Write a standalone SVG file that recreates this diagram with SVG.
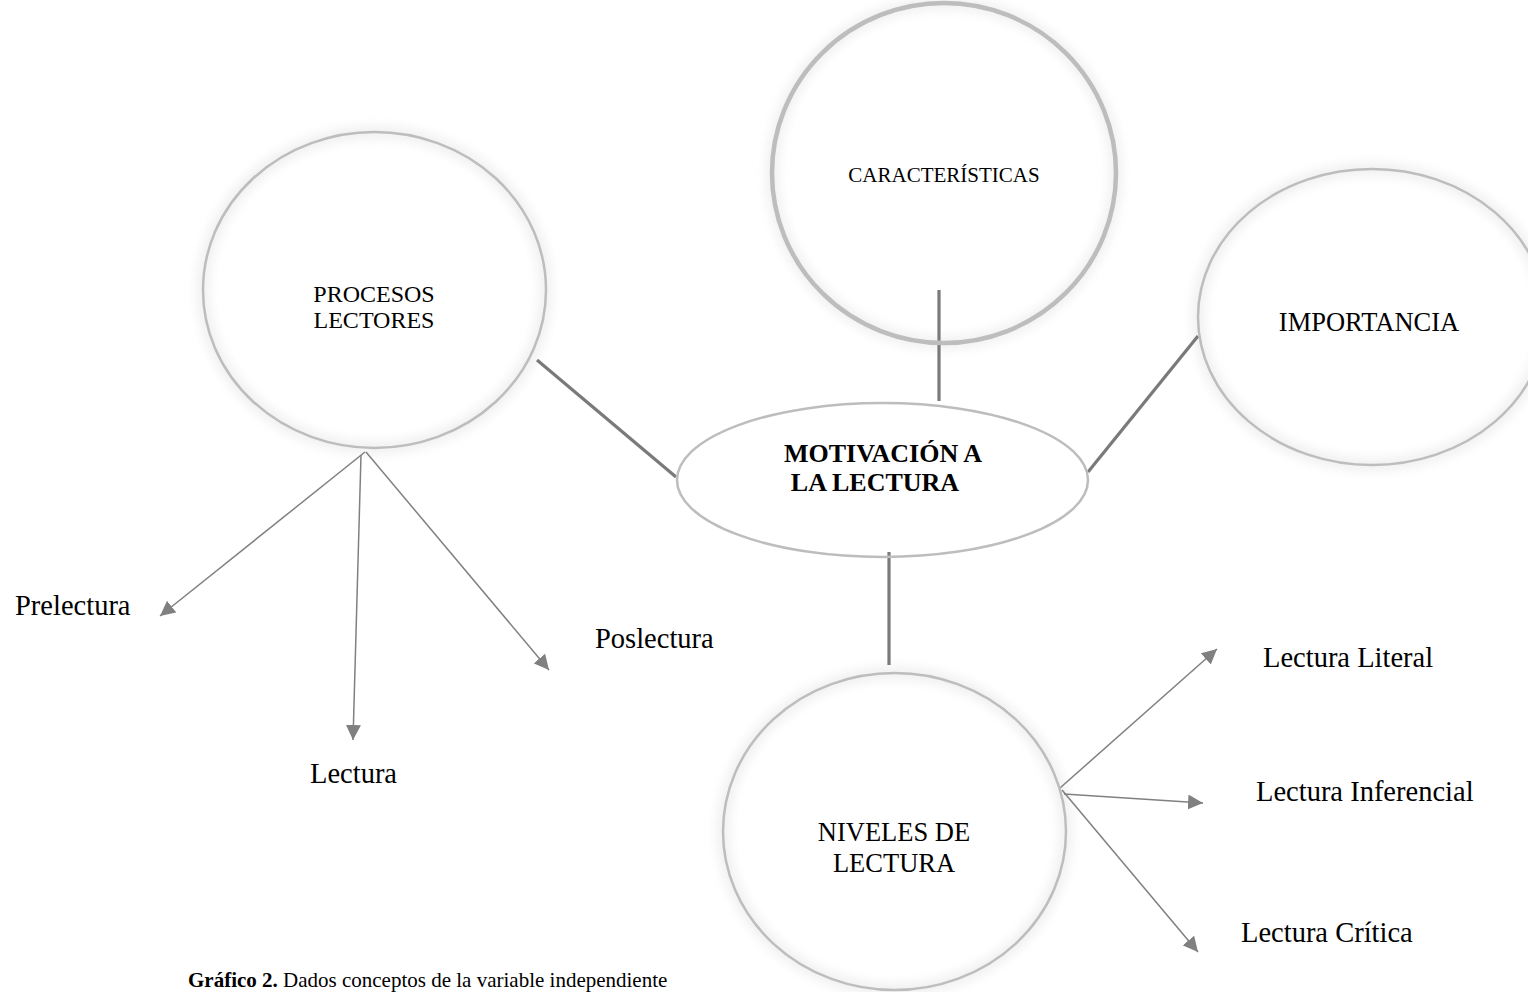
<svg xmlns="http://www.w3.org/2000/svg" width="1528" height="992" viewBox="0 0 1528 992">
  <defs>
    <style>
      .node { fill: none; stroke: #bdbdbd; stroke-width: 2.5; }
      .node-thick { stroke-width: 4.5; }
      .halo { fill: none; stroke: #ececec; stroke-width: 10; filter: url(#soft); }
      .link { stroke: #7a7a7a; stroke-width: 3.2; fill: none; }
      .arrow { stroke: #808080; stroke-width: 1.5; fill: none; marker-end: url(#head); }
      text { font-family: "Liberation Serif", "Times New Roman", serif; fill: #000; }
      .label { font-size: 24px; text-anchor: middle; }
      .leaf { font-size: 28.5px; }
      .core { font-size: 26px; font-weight: bold; text-anchor: middle; }
      .caption { font-size: 21px; }
    </style>
    <filter id="soft" x="-20%" y="-20%" width="140%" height="140%">
      <feGaussianBlur stdDeviation="6"/>
    </filter>
    <marker id="head" viewBox="0 0 10 10" refX="10" refY="5" markerWidth="15" markerHeight="15" markerUnits="userSpaceOnUse" orient="auto">
      <path d="M0,0 L10,5 L0,10 z" fill="#808080"/>
    </marker>
  </defs>

  <rect width="1528" height="992" fill="#ffffff"/>

  <!-- soft halos behind the circles -->
  <g id="halos">
    <ellipse class="halo" cx="374.5" cy="290" rx="171.5" ry="158"/>
    <ellipse class="halo" cx="944" cy="173" rx="172" ry="170"/>
    <ellipse class="halo" cx="1372" cy="317" rx="174" ry="148"/>
    <ellipse class="halo" cx="894.5" cy="831.5" rx="171.5" ry="158.5"/>
  </g>

  <!-- connectors -->
  <g id="connectors">
    <line class="link" x1="537" y1="360" x2="676" y2="477"/>
    <line class="link" x1="939" y1="290" x2="939" y2="401"/>
    <line class="link" x1="1088" y1="472" x2="1198" y2="336"/>
    <line class="link" x1="889" y1="552" x2="889" y2="665"/>

    <line class="arrow" x1="365" y1="452" x2="160" y2="616"/>
    <line class="arrow" x1="361" y1="455" x2="353" y2="740"/>
    <line class="arrow" x1="366" y1="452" x2="549" y2="670"/>

    <line class="arrow" x1="1060" y1="788" x2="1217" y2="649"/>
    <line class="arrow" x1="1064" y1="794" x2="1203" y2="803"/>
    <line class="arrow" x1="1062" y1="790" x2="1198" y2="952"/>
  </g>

  <g id="procesos-lectores">
    <ellipse class="node" cx="374.5" cy="290" rx="171.5" ry="158"/>
    <text class="label" x="374" y="302">PROCESOS</text>
    <text class="label" x="374" y="328">LECTORES</text>
  </g>

  <g id="caracteristicas">
    <ellipse class="node node-thick" cx="944" cy="173" rx="172" ry="170"/>
    <text x="944" y="182" font-size="21" text-anchor="middle">CARACTERÍSTICAS</text>
  </g>

  <g id="importancia">
    <ellipse class="node" cx="1372" cy="317" rx="174" ry="148"/>
    <text x="1369" y="331" font-size="26.5" text-anchor="middle">IMPORTANCIA</text>
  </g>

  <g id="motivacion">
    <ellipse class="node" cx="882.5" cy="480" rx="205.5" ry="77"/>
    <text class="core" x="883" y="462">MOTIVACIÓN A</text>
    <text class="core" x="875" y="491">LA LECTURA</text>
  </g>

  <g id="niveles-de-lectura">
    <ellipse class="node" cx="894.5" cy="831.5" rx="171.5" ry="158.5"/>
    <text x="894" y="841" font-size="26.5" text-anchor="middle">NIVELES DE</text>
    <text x="894" y="872" font-size="26.5" text-anchor="middle">LECTURA</text>
  </g>

  <g id="prelectura"><text class="leaf" x="15" y="615">Prelectura</text></g>
  <g id="lectura"><text class="leaf" x="310" y="783">Lectura</text></g>
  <g id="poslectura"><text class="leaf" x="595" y="648">Poslectura</text></g>
  <g id="lectura-literal"><text class="leaf" x="1263" y="667">Lectura Literal</text></g>
  <g id="lectura-inferencial"><text class="leaf" x="1256" y="801">Lectura Inferencial</text></g>
  <g id="lectura-critica"><text class="leaf" x="1241" y="942">Lectura Crítica</text></g>

  <g id="caption">
    <text class="caption" x="188" y="987"><tspan font-weight="bold">Gráfico 2.</tspan> Dados conceptos de la variable independiente</text>
  </g>
</svg>
